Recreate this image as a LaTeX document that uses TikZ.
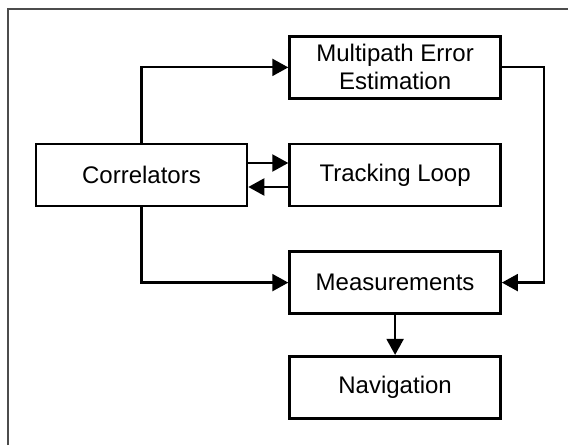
\documentclass[tikz,border=0pt]{standalone}
\usepackage{fontspec}
\setmainfont{Liberation Sans}
\usepackage{tikz}
\usetikzlibrary{arrows.meta, positioning}

\begin{document}
\begin{tikzpicture}[
    x=1pt, y=1pt,
    node distance=43pt and 40pt,
    block/.style={rectangle, draw, line width=2.6pt, minimum width=211pt, minimum height=62pt, inner sep=0pt, align=center, font=\fontsize{24}{28}\selectfont},
    arrow/.style={line width=2.2pt, -{Triangle[length=16pt, width=17pt]}},
    frame/.style={draw=black!70, line width=1.3pt}
]
    \useasboundingbox (0,0) rectangle (568,445);
    \draw [frame] (8,0) -- (8,436) -- (568,436);

    \node (corr) [block] at (141.5,270) {Correlators};
    \node (trk) [block, right=of corr] {Tracking Loop};
    \node (mpe) [block, above=of trk] {Multipath Error\\Estimation};
    \node (meas) [block, below=of trk] {Measurements};
    \node (nav) [block, below=40pt of meas] {Navigation};

    \draw [arrow] (corr.north) |- (mpe.west);
    \draw [arrow] ([yshift=12pt]corr.east) -- ([yshift=12pt]trk.west);
    \draw [arrow] ([yshift=-12pt]trk.west) -- ([yshift=-12pt]corr.east);
    \draw [arrow] (corr.south) |- (meas.west);
    \draw [arrow] (mpe.east) -- ++(42,0) |- (meas.east);
    \draw [arrow] (meas) -- (nav);
\end{tikzpicture}
\end{document}
